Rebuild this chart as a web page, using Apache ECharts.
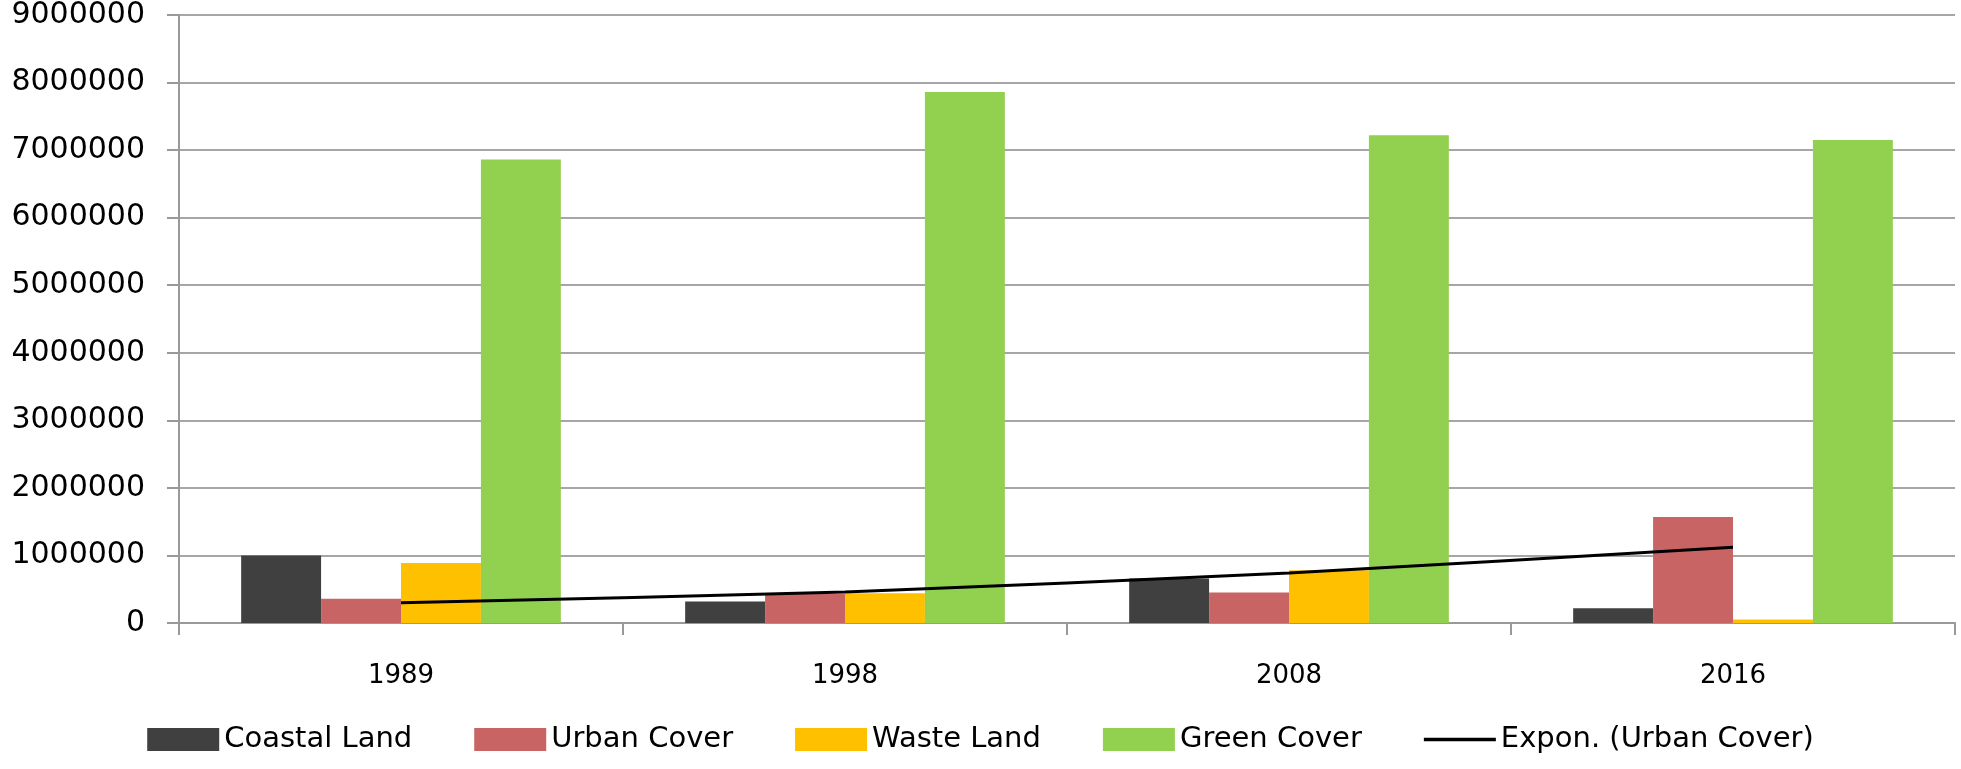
<!DOCTYPE html>
<html>
<head>
<meta charset="utf-8">
<script src="https://cdn.jsdelivr.net/npm/echarts@6/dist/echarts.min.js"></script>
<style>
html,body{margin:0;padding:0;background:#fff;}
#chart{width:1961px;height:769px;}
</style>
</head>
<body>
<div id="chart"></div>
<script>
const categories = ['1989', '1998', '2008', '2016'];
const coastalLand = [1000000, 320000, 660000, 220000];
const urbanCover = [360000, 430000, 450000, 1570000];
const wasteLand = [890000, 440000, 780000, 50000];
const greenCover = [6860000, 7860000, 7220000, 7150000];
const exponUrban = [300000, 460000, 740000, 1120000];

const FONT = 'DejaVu Sans';
const chart = echarts.init(document.getElementById('chart'), null, {renderer: 'canvas'});
const barSeries = (name, data, color) => ({
  name, type: 'bar', data, barGap: '0%', barCategoryGap: '28%',
  itemStyle: {color}, emphasis: {disabled: true}
});
chart.setOption({
  animation: false,
  backgroundColor: '#ffffff',
  grid: {left: 179, right: 6, top: 15, bottom: 146, containLabel: false},
  legend: {
    bottom: 10, left: 'center',
    itemWidth: 72, itemHeight: 23, itemGap: 62,
    textStyle: {fontFamily: FONT, fontSize: 29, color: '#000'},
    data: [
      {name: 'Coastal Land', icon: 'rect'}, {name: 'Urban Cover', icon: 'rect'},
      {name: 'Waste Land', icon: 'rect'}, {name: 'Green Cover', icon: 'rect'},
      {name: 'Expon. (Urban Cover)', icon: 'path://M0,0H66V3H0Z', itemStyle: {color: '#000'}}
    ]
  },
  xAxis: {
    type: 'category', data: categories,
    axisLine: {lineStyle: {color: '#999', width: 2}},
    axisTick: {show: true, length: 12, lineStyle: {color: '#999', width: 2}},
    axisLabel: {fontFamily: FONT, fontSize: 26, color: '#000', margin: 40}
  },
  yAxis: {
    type: 'value', min: 0, max: 9000000, interval: 1000000,
    axisLine: {show: true, lineStyle: {color: '#999', width: 2}},
    axisTick: {show: true, length: 12, lineStyle: {color: '#999', width: 2}},
    splitLine: {lineStyle: {color: '#a6a6a6', width: 2}},
    axisLabel: {fontFamily: FONT, fontSize: 30, color: '#000', margin: 34,
      formatter: v => String(v)}
  },
  series: [
    barSeries('Coastal Land', coastalLand, '#404040'),
    barSeries('Urban Cover', urbanCover, '#c96464'),
    barSeries('Waste Land', wasteLand, '#ffc000'),
    barSeries('Green Cover', greenCover, '#92d050'),
    {
      name: 'Expon. (Urban Cover)', type: 'line', data: exponUrban,
      symbol: 'none', smooth: 0.2, z: 5,
      lineStyle: {color: '#000', width: 3}, itemStyle: {color: '#000'}
    }
  ]
});
</script>
</body>
</html>
